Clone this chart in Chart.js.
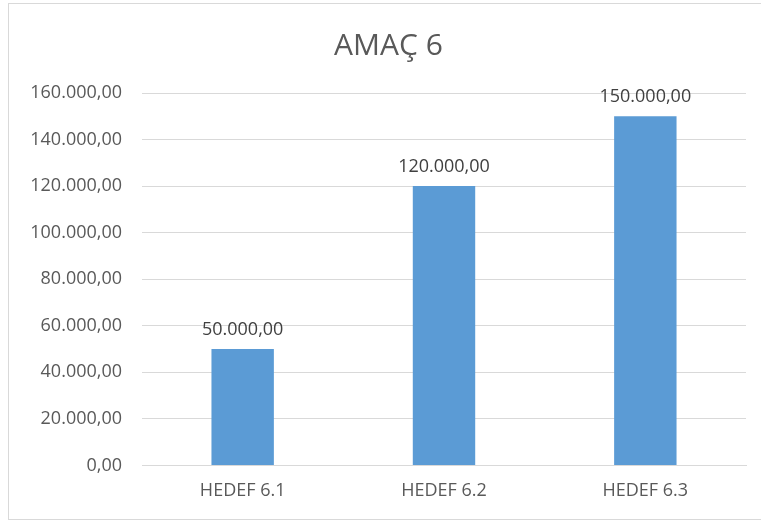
<!DOCTYPE html>
<html>
<head>
<meta charset="utf-8">
<script src="https://cdn.jsdelivr.net/npm/chart.js@4"></script>
<style>
  html, body { margin: 0; padding: 0; background: #fff; }
  #wrap { width: 761px; height: 522px; }
</style>
</head>
<body>
<div id="wrap"><canvas id="grafikAmac" width="761" height="522"></canvas></div>
<script>
const kategoriler = ["HEDEF 6.1", "HEDEF 6.2", "HEDEF 6.3"];
const tutarlar = [50000, 120000, 150000];
const yMaks = 160000;
const yAdim = 20000;

function formatTL(v) {
    const tam = Math.round(v).toString().replace(/\B(?=(\d{3})+(?!\d))/g, ".");
    return tam + ",00";
}

// cerceve + bar ustu degerler
const degerEtiketi = {
    id: "degerEtiketi",
    beforeDraw(chart) {
        const c = chart.ctx;
        c.save();
        c.strokeStyle = "#D9D9D9";
        c.lineWidth = 1;
        c.strokeRect(8.5, 3.5, 760, 516);
        c.restore();
    },
    afterDatasetsDraw(chart) {
        const c = chart.ctx;
        const meta = chart.getDatasetMeta(0);
        c.save();
        c.font = "18px 'Open Sans'";
        c.fillStyle = "#404040";
        c.textAlign = "center";
        c.textBaseline = "bottom";
        meta.data.forEach((bar, i) => {
            c.fillText(formatTL(chart.data.datasets[0].data[i]), bar.x, bar.y - 10);
        });
        c.restore();
    }
};

document.addEventListener("DOMContentLoaded", function () {
    const ctx = document.getElementById("grafikAmac").getContext("2d");

    new Chart(ctx, {
        type: "bar",
        data: {
            labels: kategoriler,
            datasets: [{
                label: "AMAÇ 6",
                data: tutarlar,
                backgroundColor: "#5B9BD5",
                categoryPercentage: 1,
                barPercentage: 0.31
            }]
        },
        options: {
            responsive: false,
            animation: false,
            layout: { padding: { left: 31, right: 15, top: 0, bottom: 5 } },
            plugins: {
                legend: { display: false },
                tooltip: { enabled: false },
                title: {
                    display: true,
                    text: "AMAÇ 6",
                    color: "#595959",
                    font: { family: "'Open Sans'", size: 30, weight: "normal" },
                    padding: { top: 28, bottom: 29 }
                }
            },
            scales: {
                x: {
                    grid: { display: false, drawTicks: false },
                    border: { color: "#D9D9D9" },
                    ticks: {
                        color: "#595959",
                        font: { family: "'Open Sans'", size: 18 },
                        padding: 15
                    }
                },
                y: {
                    min: 0,
                    max: yMaks,
                    afterFit(scale) { scale.width = 111; },
                    grid: { color: "#D9D9D9", drawTicks: false },
                    border: { display: false },
                    ticks: {
                        stepSize: yAdim,
                        color: "#595959",
                        font: { family: "'Open Sans'", size: 18 },
                        padding: 20,
                        callback: (v) => formatTL(v)
                    }
                }
            }
        },
        plugins: [degerEtiketi]
    });
});
</script>
</body>
</html>
